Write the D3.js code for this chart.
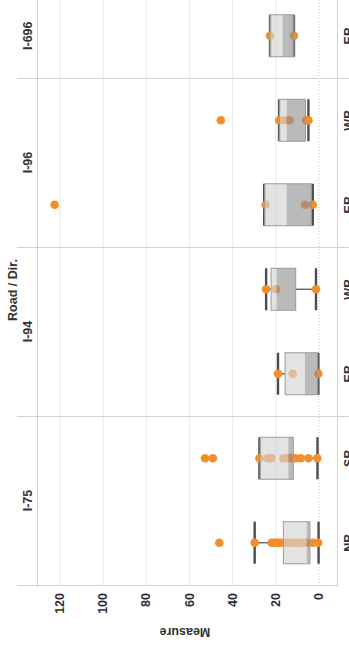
<!DOCTYPE html>
<html><head><meta charset="utf-8">
<script src="https://cdn.jsdelivr.net/npm/d3@7"></script>
<style>html,body{margin:0;padding:0;background:#fff;overflow:hidden}</style>
</head><body><svg id="c" width="349" height="645"></svg>
<script>
// ---- data ----
const roads = ["I-75", "I-94", "I-96", "I-696"];
const groupRoad = ["I-75", "I-75", "I-94", "I-94", "I-96", "I-96", "I-696"];
const groupDir  = ["NB", "SB", "EB", "WB", "EB", "WB", "EB"];
const pointValues = [
  [46.2, 29.8, 22.0, 20.6, 19.6, 18.6, 17.8, 15.2, 13.5, 11.8, 10.0, 8.4, 7.0, 5.7, 2.8, 0.4],
  [52.8, 49.2, 27.6, 23.8, 22.0, 16.5, 14.6, 13.0, 11.0, 8.5, 4.9, 0.8],
  [19.0, 12.2, 0.3],
  [24.5, 19.9, 1.4],
  [122.5, 24.7, 6.5, 2.9],
  [45.5, 18.4, 16.2, 13.7, 6.0, 4.9],
  [22.7, 11.6]
];
const whiskerLow  = [0.2, 0.7, 0.3, 1.4, 2.9, 4.9, 11.6];
const quartile1   = [4.2, 11.9, 0.6, 10.8, 3.6, 6.3, 11.6];
const medians     = [5.7, 14.2, 6.5, 19.6, 15.0, 15.0, 16.9];
const quartile3   = [16.5, 27.3, 15.7, 22.2, 25.2, 18.4, 22.7];
const whiskerHigh = [29.8, 27.6, 19.0, 24.5, 25.4, 18.5, 22.7];
const tickValues = [0, 20, 40, 60, 80, 100, 120];
const axisTitle = "Measure";
const headerTitle = "Road / Dir.";

// ---- layout ----
const svg = d3.select("#c");
const font = "'Liberation Sans', Arial, sans-serif";
const paneLeft = 37, paneRight = 337, axisY = 585, bandH = 84.5;
const keys = groupRoad.map((r, i) => r + "|" + groupDir[i]);

const x = d3.scaleLinear().domain([0, 120]).range([319, 60]);
const y = d3.scaleBand().domain(keys).range([axisY, axisY - bandH * keys.length]);
const boxH = 42;

// grid
const g = svg.append("g");
g.selectAll("line.grid").data(tickValues.filter(d => d > 0)).join("line")
  .attr("x1", d => x(d)).attr("x2", d => x(d)).attr("y1", 0).attr("y2", axisY)
  .attr("stroke", "#e9e9e9").attr("stroke-width", 1);
g.append("line").attr("x1", x(0)).attr("x2", x(0)).attr("y1", 0).attr("y2", axisY)
  .attr("stroke", "#c4c4c4").attr("stroke-width", 1).attr("stroke-dasharray", "1,2");

// road pane separators
const roadTop = r => d3.min(keys.filter(k => k.startsWith(r + "|")), k => y(k));
const roadBottom = r => d3.max(keys.filter(k => k.startsWith(r + "|")), k => y(k) + y.bandwidth());
roads.forEach(r => {
  const t = roadTop(r);
  if (t > 0) g.append("line").attr("x1", 17).attr("x2", 349).attr("y1", t + 0.5).attr("y2", t + 0.5)
    .attr("stroke", "#d3d3d3").attr("stroke-width", 1);
});
// borders
g.append("line").attr("x1", paneLeft + 0.5).attr("x2", paneLeft + 0.5).attr("y1", 0).attr("y2", axisY + 2)
  .attr("stroke", "#d3d3d3");
g.append("line").attr("x1", paneRight + 0.5).attr("x2", paneRight + 0.5).attr("y1", 0).attr("y2", axisY + 2)
  .attr("stroke", "#d3d3d3");
g.append("line").attr("x1", 17).attr("x2", paneRight).attr("y1", axisY + 0.5).attr("y2", axisY + 0.5)
  .attr("stroke", "#d3d3d3");

// box plots
keys.forEach((k, i) => {
  const cy = y(k) + y.bandwidth() / 2;
  const gg = svg.append("g");
  // whisker lines (outside the box only)
  [[whiskerLow[i], quartile1[i]], [quartile3[i], whiskerHigh[i]]].forEach(([a, b]) => {
    gg.append("line").attr("x1", x(a)).attr("x2", x(b))
      .attr("y1", cy).attr("y2", cy).attr("stroke", "#555").attr("stroke-width", 1.3);
  });
  // caps
  [whiskerLow[i], whiskerHigh[i]].forEach(v => {
    gg.append("line").attr("x1", x(v)).attr("x2", x(v))
      .attr("y1", cy - boxH / 2).attr("y2", cy + boxH / 2)
      .attr("stroke", "#4d4d4d").attr("stroke-width", 2.4);
  });
  // points
  gg.selectAll("circle").data(pointValues[i]).join("circle")
    .attr("cx", d => x(d)).attr("cy", cy).attr("r", 4.3)
    .attr("fill", "#f28e2b");
  // box: median->Q3 light, Q1->median dark
  gg.append("rect").attr("x", x(quartile3[i])).attr("width", x(medians[i]) - x(quartile3[i]))
    .attr("y", cy - boxH / 2).attr("height", boxH)
    .attr("fill", "#d4d4d4").attr("fill-opacity", 0.65);
  gg.append("rect").attr("x", x(medians[i])).attr("width", x(quartile1[i]) - x(medians[i]))
    .attr("y", cy - boxH / 2).attr("height", boxH)
    .attr("fill", "#8f8f8f").attr("fill-opacity", 0.62);
  gg.append("rect").attr("x", x(quartile3[i])).attr("width", x(quartile1[i]) - x(quartile3[i]))
    .attr("y", cy - boxH / 2).attr("height", boxH)
    .attr("fill", "none").attr("stroke", "#9a9a9a").attr("stroke-width", 1);
});

// tick labels
svg.selectAll("text.tick").data(tickValues).join("text")
  .attr("transform", d => `translate(${x(d)},593) rotate(-90)`)
  .attr("text-anchor", "end").attr("dominant-baseline", "central")
  .attr("font-family", font).attr("font-size", 12.5).attr("font-weight", "bold")
  .attr("fill", "#2e2e3a").text(d => d);

// axis title
svg.append("text").attr("transform", "translate(185,632) rotate(180)")
  .attr("text-anchor", "middle").attr("dominant-baseline", "central")
  .attr("font-family", font).attr("font-size", 12.5).attr("font-weight", "bold")
  .attr("fill", "#333").text(axisTitle);

// road headers
roads.forEach(r => {
  const cy = (Math.max(roadTop(r), -6.5) + roadBottom(r)) / 2;
  svg.append("text").attr("transform", `translate(28,${cy}) rotate(-90)`)
    .attr("text-anchor", "middle").attr("dominant-baseline", "central")
    .attr("font-family", font).attr("font-size", 12.5).attr("font-weight", "bold")
    .attr("fill", "#333").text(r);
});
svg.append("text").attr("transform", "translate(13,290) rotate(-90)")
  .attr("text-anchor", "middle").attr("dominant-baseline", "central")
  .attr("font-family", font).attr("font-size", 12.5).attr("font-weight", "bold")
  .attr("fill", "#333").text(headerTitle);

// direction headers (cut by the right edge, as in the reference)
keys.forEach((k, i) => {
  const cy = y(k) + y.bandwidth() / 2;
  svg.append("text").attr("transform", `translate(353,${cy}) rotate(-90)`)
    .attr("text-anchor", "middle")
    .attr("font-family", font).attr("font-size", 12.5).attr("font-weight", "bold")
    .attr("fill", "#333").text(groupDir[i]);
});
</script></body></html>
